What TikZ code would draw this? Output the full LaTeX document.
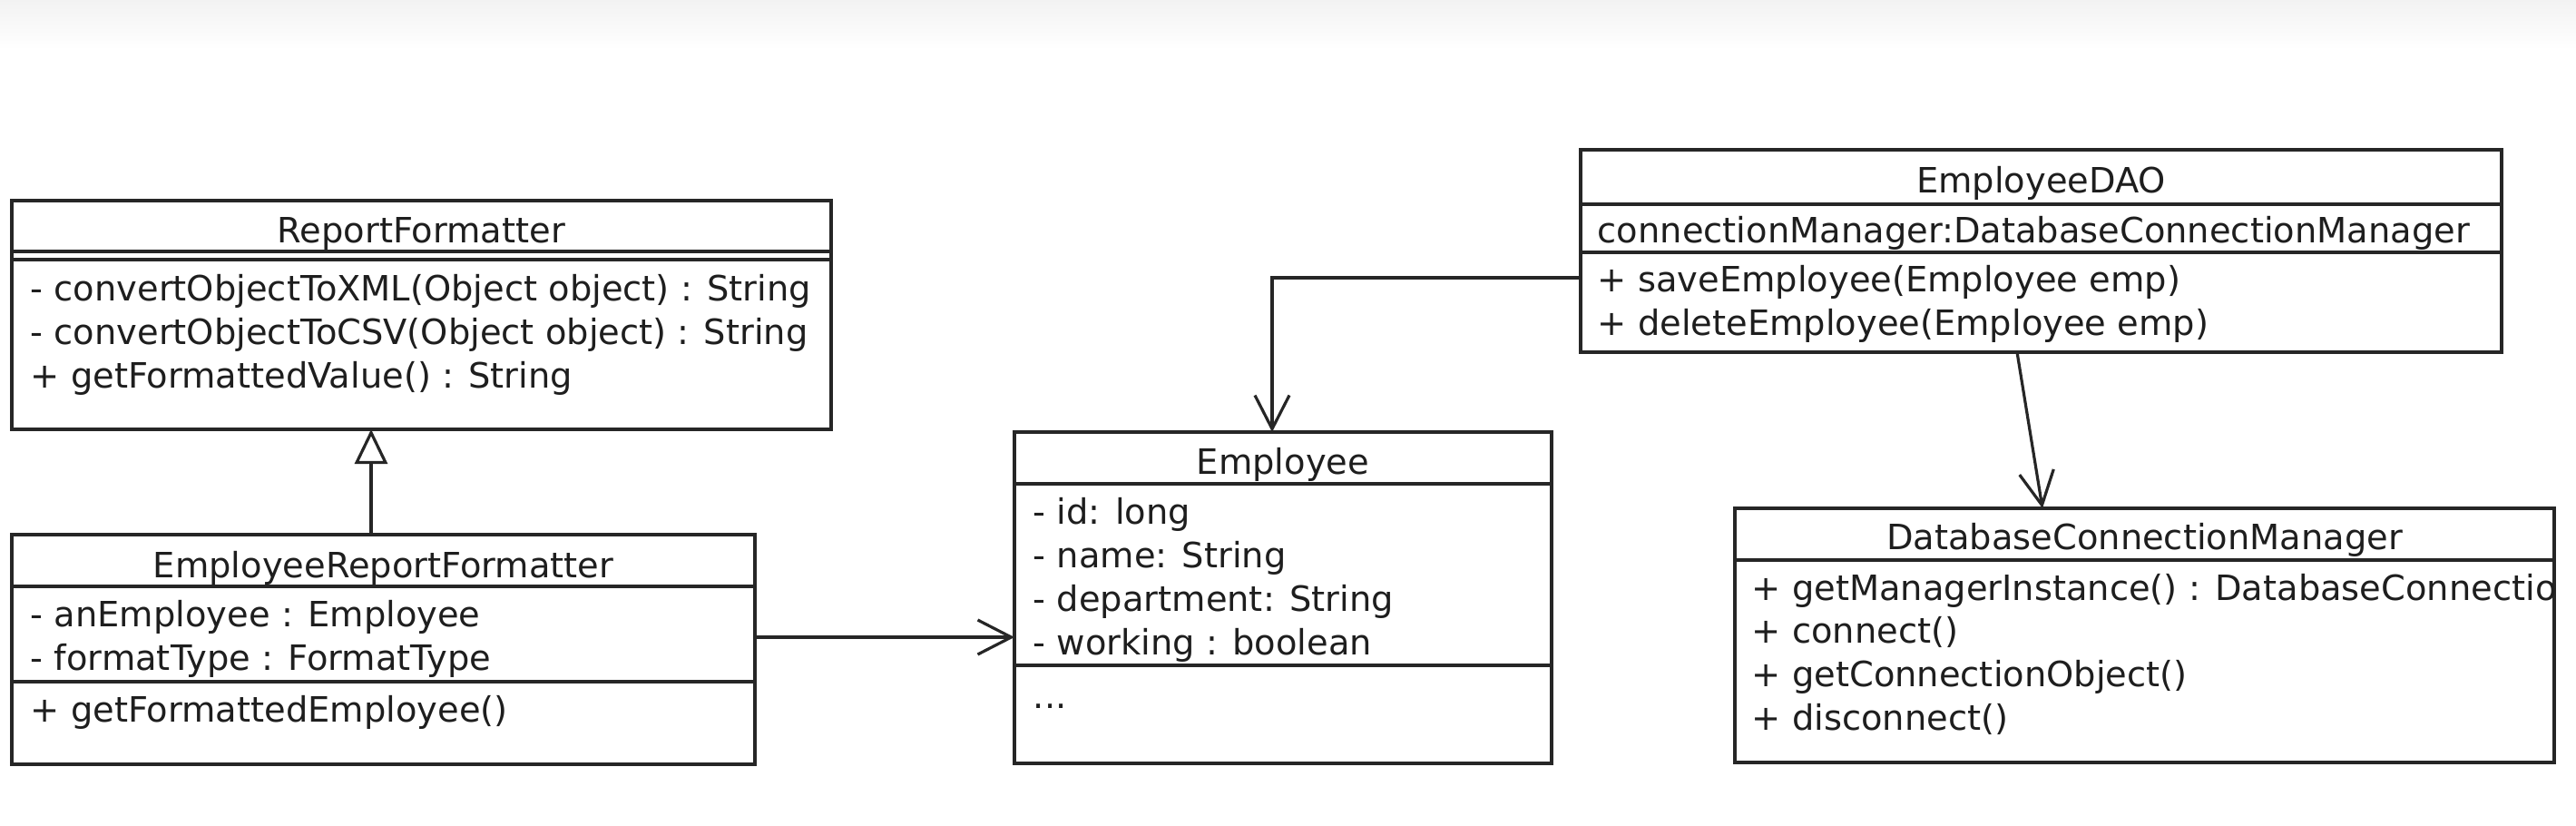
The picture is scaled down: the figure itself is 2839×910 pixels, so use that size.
\documentclass[tikz,border=0pt]{standalone}
\usepackage{fontspec}
\setmainfont{DejaVu Sans}
\usetikzlibrary{arrows.meta}
\definecolor{lc}{HTML}{262626}
\definecolor{tc}{HTML}{1E1E1E}
\begin{document}
\begin{tikzpicture}[x=0.25pt,y=-0.25pt,
  cls/.style={draw=lc, line width=0.85pt, fill=white, inner sep=0pt, outer sep=0pt, rectangle},
  sepline/.style={draw=lc, line width=0.85pt},
  txt/.style={anchor=base west, inner sep=0pt, text=tc, font=\fontsize{9.6}{12}\selectfont},
  ttl/.style={anchor=base, inner sep=0pt, text=tc, font=\fontsize{9.6}{12}\selectfont},
  assoc/.style={draw=lc, line width=0.8pt, -{Straight Barb[length=9.25pt, width=9.5pt, line width=0.8pt]}},
  gen/.style={draw=lc, line width=0.8pt, -{Triangle[open, length=9.5pt, width=9pt, fill=white, line width=0.8pt]}}
]
\useasboundingbox (0,0) rectangle (2839,910);
\fill[white] (0,0) rectangle (2839,910);
\shade[top color=black!5, bottom color=white] (0,0) rectangle (2839,55);

% ---------- boxes ----------
\node[cls, minimum width=225.75pt, minimum height=63pt] (rf) at (464.5,347) {};
\node[cls, minimum width=204.75pt, minimum height=63.25pt] (erf) at (422.5,715.5) {};
\node[cls, minimum width=148pt, minimum height=91.25pt] (emp) at (1414,658.5) {};
\node[cls, minimum width=253.75pt, minimum height=55.75pt] (dao) at (2249.5,276.5) {};
\node[cls, minimum width=225.75pt, minimum height=70pt] (dcm) at (2363.5,700) {};

% ---------- separators ----------
\coordinate (s1) at (0,277); \coordinate (s2) at (0,286);
\draw[sepline] (rf.west |- s1) -- (rf.east |- s1);
\draw[sepline] (rf.west |- s2) -- (rf.east |- s2);
\coordinate (s3) at (0,646); \coordinate (s4) at (0,751);
\draw[sepline] (erf.west |- s3) -- (erf.east |- s3);
\draw[sepline] (erf.west |- s4) -- (erf.east |- s4);
\coordinate (s5) at (0,533); \coordinate (s6) at (0,733);
\draw[sepline] (emp.west |- s5) -- (emp.east |- s5);
\draw[sepline] (emp.west |- s6) -- (emp.east |- s6);
\coordinate (s7) at (0,225); \coordinate (s8) at (0,278);
\draw[sepline] (dao.west |- s7) -- (dao.east |- s7);
\draw[sepline] (dao.west |- s8) -- (dao.east |- s8);
\coordinate (s9) at (0,617);
\draw[sepline] (dcm.west |- s9) -- (dcm.east |- s9);

% ---------- texts ----------
\node[ttl] (rft) at (464.5,267) {ReportFormatter};
\node[txt] (rfm1) at (33,331) {- convertObjectToXML(Object object) : String};
\node[txt] (rfm2) at (33,379) {- convertObjectToCSV(Object object) : String};
\node[txt] (rfm3) at (33,427) {+ getFormattedValue() : String};

\node[ttl] (erft) at (422.5,636) {EmployeeReportFormatter};
\node[txt] (erfa1) at (33,690) {- anEmployee : Employee};
\node[txt] (erfa2) at (33,738) {- formatType : FormatType};
\node[txt] (erfm1) at (33,795) {+ getFormattedEmployee()};

\node[ttl] (empt) at (1414,522) {Employee};
\node[txt] (empa1) at (1138,577) {- id: long};
\node[txt] (empa2) at (1138,625) {- name: String};
\node[txt] (empa3) at (1138,673) {- department: String};
\node[txt] (empa4) at (1138,721) {- working : boolean};
\node[txt] (empm1) at (1138,780) {...};

\node[ttl] (daot) at (2249.5,212) {EmployeeDAO};
\node[txt] (daoa1) at (1760,267) {connectionManager:DatabaseConnectionManager};
\node[txt] (daom1) at (1760,321) {+ saveEmployee(Employee emp)};
\node[txt] (daom2) at (1760,369) {+ deleteEmployee(Employee emp)};

\node[ttl] (dcmt) at (2363.5,605) {DatabaseConnectionManager};
\begin{scope}
  \clip (dcm.north west) rectangle (dcm.south east);
  \node[txt] (dcmm1) at (1930,661) {+ getManagerInstance() : DatabaseConnectionManager};
\end{scope}
\node[txt] (dcmm2) at (1930,708) {+ connect()};
\node[txt] (dcmm3) at (1930,756) {+ getConnectionObject()};
\node[txt] (dcmm4) at (1930,804) {+ disconnect()};

% ---------- connectors ----------
\coordinate (gx) at (409,0);
\draw[gen] (erf.north -| gx) -- (rf.south -| gx);

\coordinate (ay) at (0,702);
\draw[assoc] (erf.east |- ay) -- (emp.west |- ay);

\coordinate (by) at (0,306);
\coordinate (bx) at (1402,0);
\draw[assoc] (dao.west |- by) -| (emp.north -| bx);

\coordinate (cx1) at (2223,0);
\coordinate (cx2) at (2251,0);
\draw[assoc] (dao.south -| cx1) -- (dcm.north -| cx2);
\end{tikzpicture}
\end{document}
